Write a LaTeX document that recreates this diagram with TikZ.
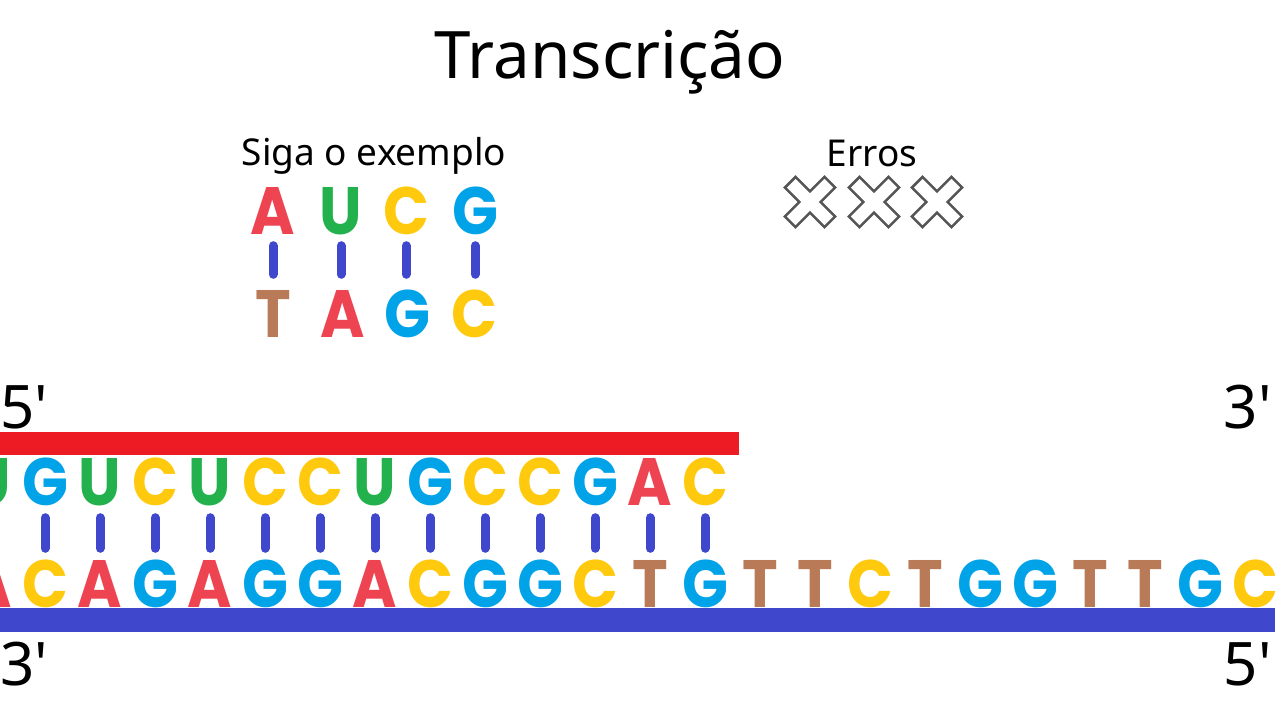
\documentclass[tikz,border=0pt]{standalone}
\usepackage{fontspec}
\setmainfont{Noto Sans}
\newfontfamily\basefont{Poppins}[FakeStretch=0.9]
\definecolor{cA}{HTML}{EE4350}
\definecolor{cU}{HTML}{22B14C}
\definecolor{cC}{HTML}{FFC90E}
\definecolor{cG}{HTML}{00A2E8}
\definecolor{cT}{HTML}{B97A57}
\definecolor{cRed}{HTML}{ED1C24}
\definecolor{cBar}{HTML}{3F48CC}
\definecolor{cX}{HTML}{555555}
\tikzset{
  base/.style={inner sep=0pt, anchor=base, text height=47pt, text depth=0pt,
    font=\basefont\bfseries\fontsize{67}{67}\selectfont},
  nA/.style={base, text=cA},
  nU/.style={base, text=cU},
  nC/.style={base, text=cC},
  nG/.style={base, text=cG},
  nT/.style={base, text=cT},
  pair/.style={draw=cBar, line width=9pt, line cap=round},
  endlabel/.style={inner sep=0pt, font=\fontsize{60}{60}\selectfont},
  errx/.pic={\draw[cX, line width=2.6pt, line join=miter, fill=white, rotate=45]
     (7.5,7.5) -- (7.5,28) -- (-7.5,28) -- (-7.5,7.5) -- (-28,7.5) -- (-28,-7.5)
     -- (-7.5,-7.5) -- (-7.5,-28) -- (7.5,-28) -- (7.5,-7.5) -- (28,-7.5) -- (28,7.5) -- cycle;}
}
\begin{document}
\begin{tikzpicture}[x=1pt, y=-1pt]
\useasboundingbox (0,0) rectangle (1275,715);
\clip (0,0) rectangle (1275,715);
% title
\node[inner sep=0pt, anchor=base, font=\fontsize{65.5}{66}\selectfont] (title) at (610,78) {Transcrição};
\node[inner sep=0pt, anchor=base, font=\fontsize{37}{37}\selectfont] (siga) at (374,165) {Siga o exemplo};
\node[inner sep=0pt, anchor=base, font=\fontsize{37}{37}\selectfont] (erros) at (872,166) {Erros};
% error marks
\pic (x1) at (810,202) {errx};
\pic (x2) at (874,202) {errx};
\pic (x3) at (937,202) {errx};
% example
\node[nA] (ea1) at (273,234) {A};
\node[nU] (ea2) at (341,234) {U};
\node[nC] (ea3) at (406,234) {C};
\node[nG] (ea4) at (475,234) {G};
\node[nT] (eb1) at (273,337) {T};
\node[nA] (eb2) at (343,337) {A};
\node[nG] (eb3) at (407,337) {G};
\node[nC] (eb4) at (474,337) {C};
\foreach \i in {1,...,4}
  \draw[pair, shorten <=11.5pt, shorten >=15.5pt] (ea\i.south) -- (ea\i.south |- eb\i.north);
% strands backbones
\fill[cRed] (0,432) rectangle (739,455);
\fill[cBar] (0,608) rectangle (1275,632);
% top strand (RNA)
\foreach \l [count=\i from 0] in {U,G,U,C,U,C,C,U,G,C,C,G,A,C}
  \node[n\l] (t\i) at (-10+55*\i,505) {\l};
% bottom strand (DNA)
\foreach \l [count=\i from 0] in {A,C,A,G,A,G,G,A,C,G,G,C,T,G,T,T,C,T,G,G,T,T,G,C}
  \node[n\l] (b\i) at (-10+55*\i,607) {\l};
\foreach \i in {1,...,13}
  \draw[pair, shorten <=12.5pt, shorten >=11.5pt] (t\i.south) -- (b\i.north);
% end labels
\node[endlabel, anchor=base west] (l5a) at (0,428) {5\textquotesingle};
\node[endlabel, anchor=base east] (l3a) at (1272,428) {3\textquotesingle};
\node[endlabel, anchor=base west] (l3b) at (0,685) {3\textquotesingle};
\node[endlabel, anchor=base east] (l5b) at (1272,685) {5\textquotesingle};
\end{tikzpicture}
\end{document}
